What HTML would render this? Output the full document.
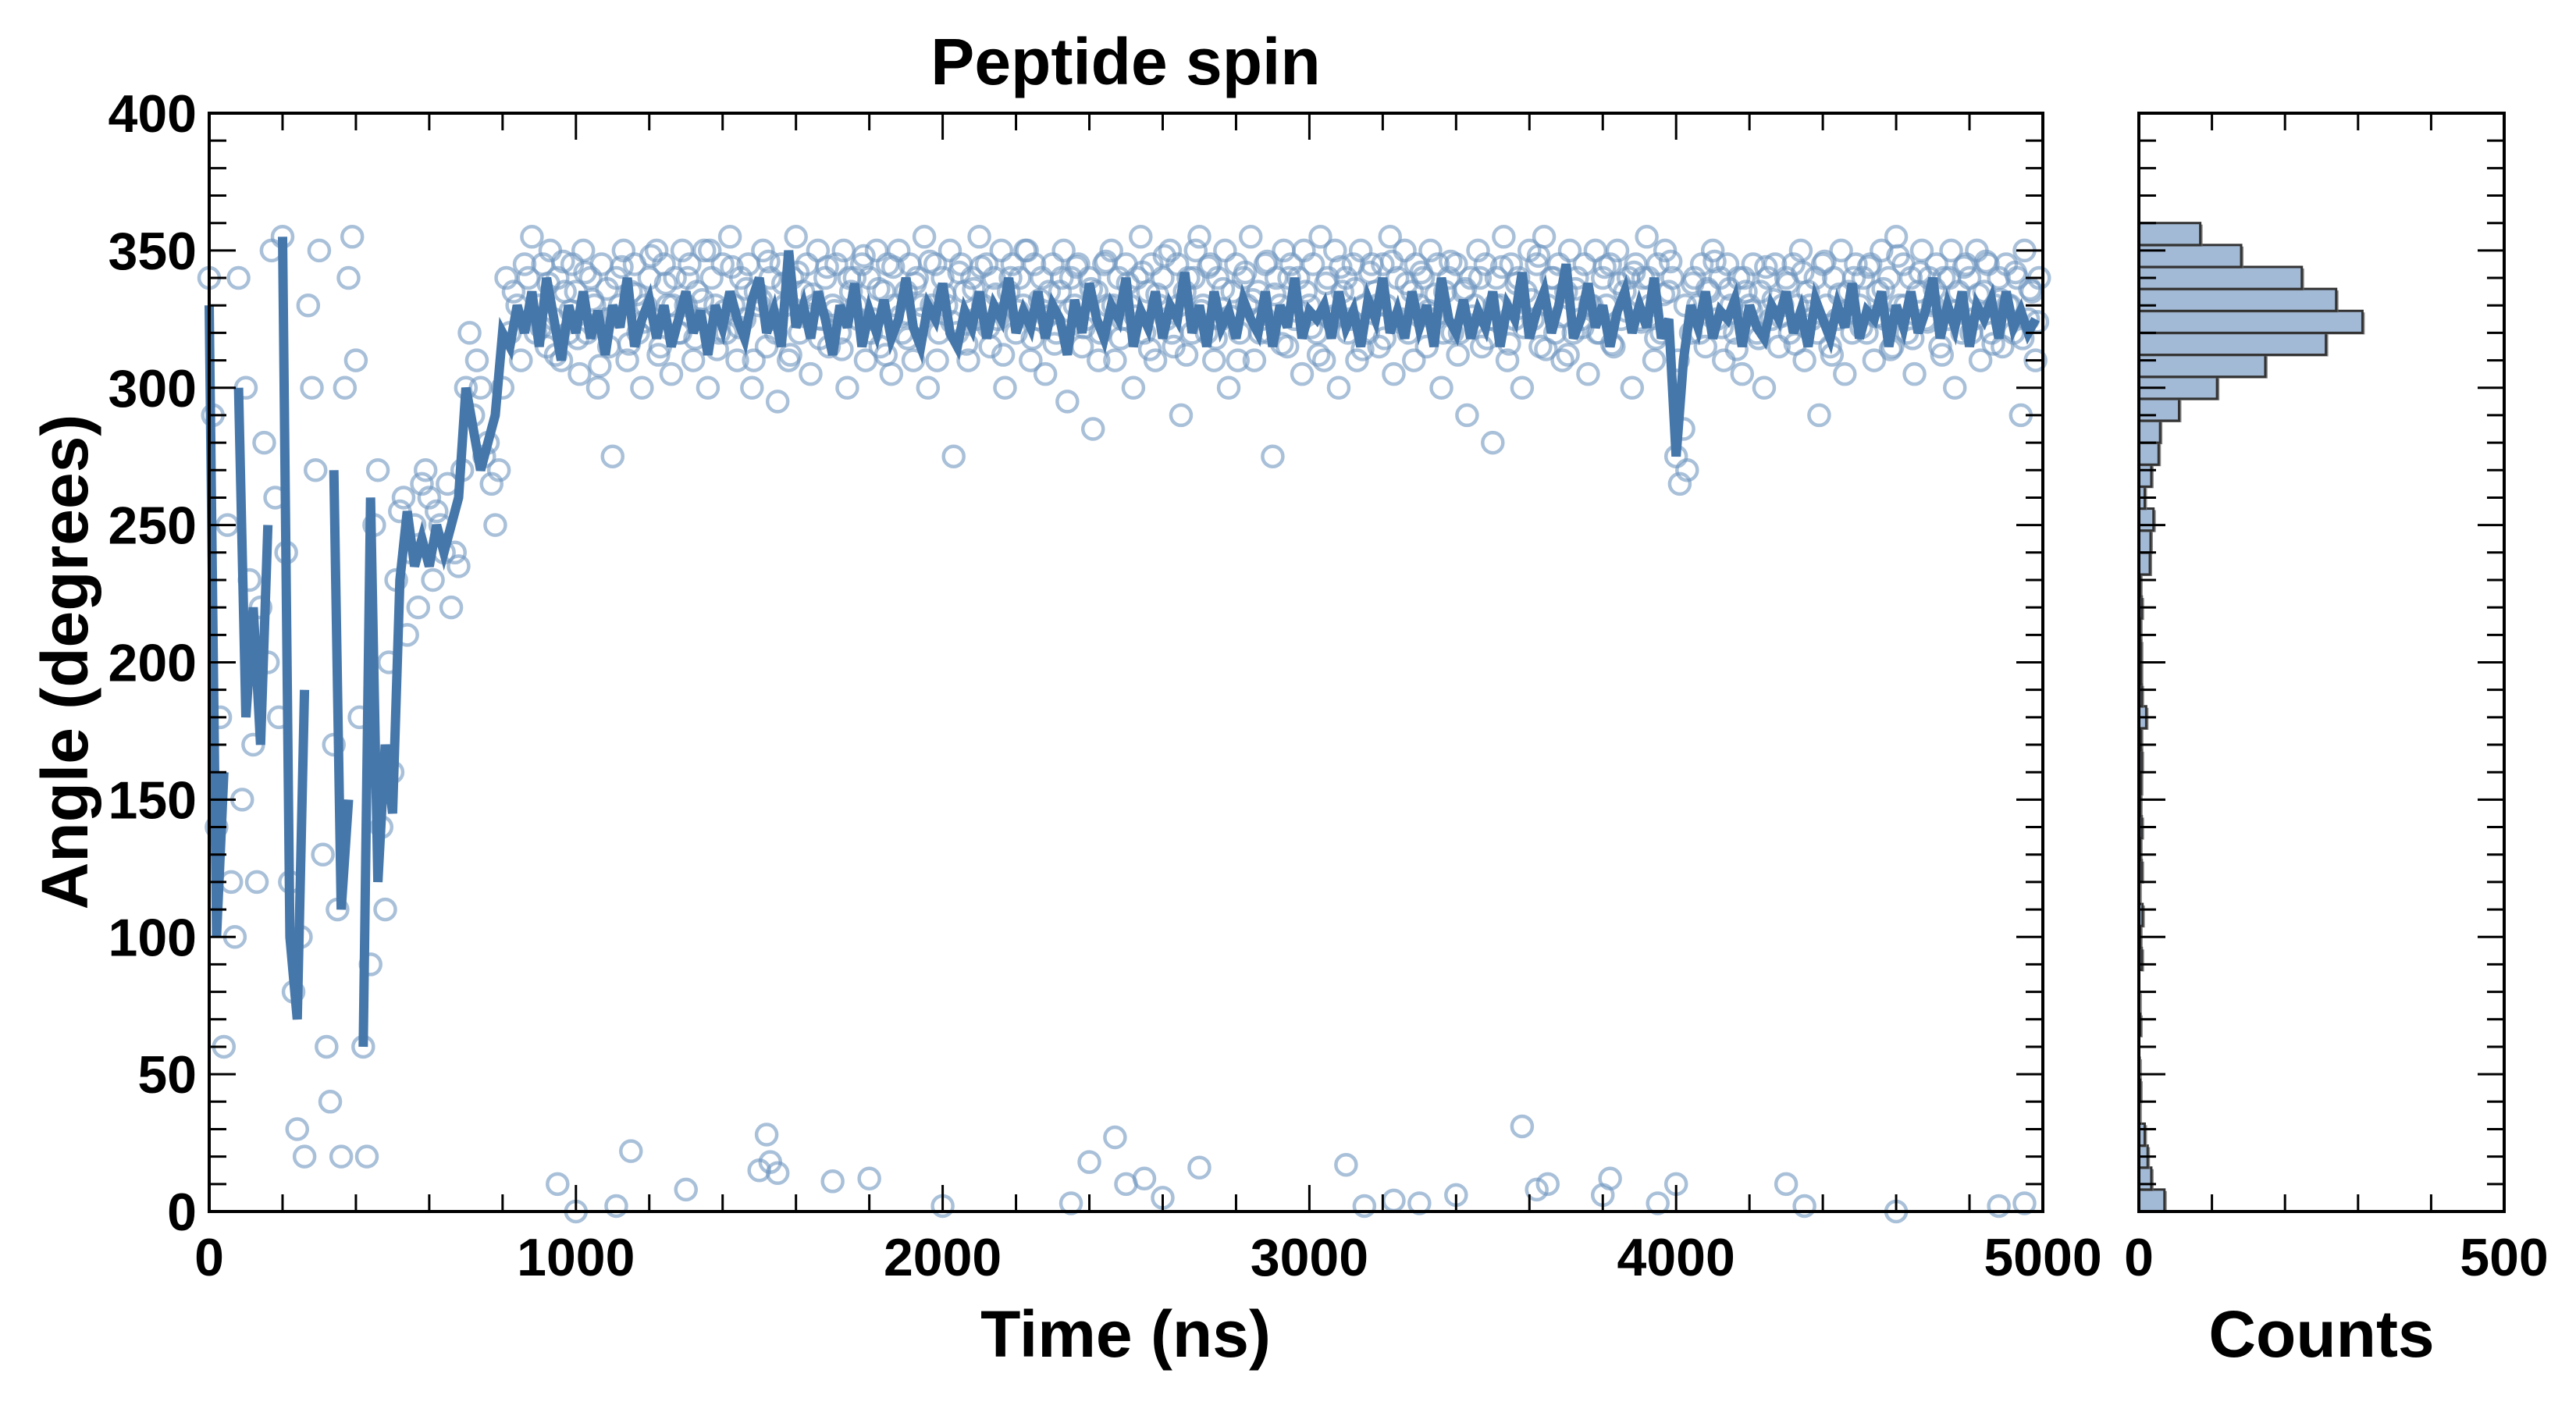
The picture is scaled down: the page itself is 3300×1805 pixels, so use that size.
<!DOCTYPE html>
<html><head><meta charset="utf-8"><style>
html,body{margin:0;padding:0;background:#fff;}
svg text{font-family:"Liberation Sans Narrow","Liberation Sans",sans-serif;font-weight:bold;fill:#000;}
</style></head><body>
<svg id="chart" width="3300" height="1800" viewBox="0 0 3300 1800" xmlns="http://www.w3.org/2000/svg">
<rect width="3300" height="1800" fill="#fff"/>
<g id="scatter"></g>
<g id="line"></g>
<g id="hist"></g>
<g id="axes"></g>
<text x="1442" y="108" font-size="84" text-anchor="middle">Peptide spin</text>
<text x="1442" y="1738" font-size="84" text-anchor="middle">Time (ns)</text>
<text x="0" y="0" font-size="84" text-anchor="middle" transform="translate(112,848) rotate(-90)">Angle (degrees)</text>
<text x="2974" y="1738" font-size="84" text-anchor="middle">Counts</text>
</svg>
<script>
const scatterStart = 0, scatterStep = 10;
const scatterValues = [
340,290,140,180,60,250,120,100,340,150,
300,230,170,120,220,280,200,350,260,180,
355,240,120,80,30,100,20,330,300,270,
350,130,60,40,170,110,20,300,340,355,
310,180,60,20,90,250,270,140,110,200,
160,230,255,260,210,240,250,220,265,270,
260,230,255,250,240,265,220,240,235,270,
300,320,290,310,300,275,280,265,250,270,
300,340,320,335,330,310,345,340,355,320,
330,345,315,350,325,340,310,335,320,345,
335,305,350,320,340,330,300,345,325,315,
275,340,330,350,310,335,345,320,300,330,
340,325,350,315,345,330,305,340,320,350,
330,345,310,335,325,350,300,340,330,320,
345,320,355,330,310,340,325,345,300,335,
330,350,315,340,325,295,345,330,310,340,
355,320,335,345,305,330,350,325,340,315,
330,345,320,350,300,335,340,325,345,310,
340,325,350,315,335,345,305,330,350,320,
335,345,310,340,325,355,300,330,345,320,
340,330,350,275,320,345,335,310,340,325,
355,330,345,315,340,325,350,300,335,345,
320,340,330,350,310,345,325,340,305,335,
345,320,335,350,295,340,330,345,315,325,
340,285,335,320,345,330,350,310,340,325,
345,330,300,340,355,320,335,345,310,330,
340,325,350,315,345,290,335,340,320,350,
355,330,320,345,310,340,325,350,300,335,
345,320,340,330,355,310,335,325,345,320,
275,340,330,350,315,345,325,340,305,335,
330,345,320,355,310,340,325,350,300,335,
340,325,345,310,350,330,320,345,335,315,
345,330,355,305,340,325,350,320,335,345,
330,340,315,350,325,345,300,335,340,320,
345,320,335,290,340,330,350,315,345,325,
280,340,330,355,310,345,325,340,300,335,
350,325,345,315,355,330,340,320,345,310,
335,350,320,340,325,345,305,330,350,320,
340,330,345,315,350,325,335,340,300,345,
325,340,355,330,310,345,320,350,335,340,
275,265,285,270,320,340,330,345,315,335,
350,325,340,310,345,330,320,340,305,335,
330,345,320,335,300,340,325,345,315,330,
340,320,345,330,350,310,335,325,340,290,
345,330,315,340,325,350,305,335,320,345,
330,340,320,345,310,335,350,325,340,315,
355,330,345,320,340,305,335,350,325,340,
330,345,315,340,325,350,300,335,320,345,
340,325,350,310,335,345,320,330,340,315,
345,330,320,340,290,350,325,335,310,340];
const scatter2Start = 905, scatter2Step = 20;
const scatter2Values = [
322,338,312,346,328,318,342,332,308,336,
326,344,316,334,324,348,312,338,330,320,
340,318,332,350,314,328,344,322,336,310,
332,346,320,338,312,342,326,334,318,344,
328,314,340,330,348,320,336,312,344,326,
318,338,330,346,310,334,324,342,316,336,
344,322,334,312,340,328,350,318,332,326,
316,340,328,344,322,336,310,346,330,318,
338,326,342,314,334,348,320,330,312,340,
328,344,318,336,326,310,342,332,320,346,
334,316,340,328,350,322,312,338,326,344,
320,336,314,342,330,318,346,324,338,310,
342,328,334,320,346,312,336,326,340,318,
330,344,316,338,322,332,348,314,340,326,
312,336,322,330,320,344,316,338,328,342,
324,340,318,334,346,310,330,338,320,336,
346,322,336,314,340,328,318,344,332,326,
338,316,342,330,320,346,312,334,328,340,
322,344,326,336,314,348,330,318,342,324,
336,312,340,328,344,320,334,346,316,332,
330,342,318,336,324];
const outlierTimes = [950,1000,1110,1150,1300,1500,1520,1530,1550,1700,1800,2000,2350,2400,2470,2500,2550,2600,2700,3100,3150,3230,3300,3400,3580,3620,3650,3800,3820,3950,4000,4300,4350,4600,4880,4950];
const outlierValues = [10,0,2,22,8,15,28,18,14,11,12,2,3,18,27,10,12,5,16,17,2,4,3,6,31,8,10,6,12,3,10,10,2,0,2,3];
const lineStep = 20;
const lineValues = [
330,100,160,null,300,180,220,170,250,null,355,100,70,190,null,40,null,270,110,150,null,60,260,120,170,145,230,255,235,245,235,250,240,250,260,300,285,270,280,290,320,315,
330,320,335,315,340,325,310,330,320,335,
318,328,312,330,322,340,315,325,332,318,
330,315,325,335,320,328,312,330,322,335,
325,318,332,340,320,328,315,350,322,330,
318,335,325,312,330,322,338,315,328,320,
332,318,325,340,322,315,330,325,338,320,
315,328,322,335,318,330,325,340,320,328,
322,335,318,330,325,312,332,320,338,325,
318,330,325,340,315,328,322,335,318,330,
325,342,320,330,315,335,322,328,318,332,
325,320,335,315,330,322,340,318,328,325,
330,318,335,322,328,315,332,325,340,320,
328,318,335,322,330,315,340,325,320,332,
318,328,322,335,315,330,325,342,318,328,
335,320,330,345,318,325,338,322,330,315,
328,335,320,330,322,340,318,325,275,310,
330,322,335,318,328,325,332,315,330,322,
318,330,325,335,320,328,315,332,325,318,
330,322,338,318,328,325,335,315,330,322,
335,320,328,340,318,330,322,335,315,330,
325,332,318,335,322,328,320,325];
const binWidth = 8;
const histCounts = [35,17,12,8,1,2,1,0,2,1,0,4,2,5,1,4,2,4,2,3,4,3,10,4,3,3,2,4,2,15,16,20,8,17,27,29,55,107,173,256,306,270,223,140,84];
const yTicks = [0,50,100,150,200,250,300,350,400];
const xTicks = [0,1000,2000,3000,4000,5000];
const histTicks = [0,500];

const NS='http://www.w3.org/2000/svg';
const L=268,R=2617,T=145,B=1552,HL=2740,HR=3208;
const X=t=>L+t/5000*(R-L);
const Y=v=>B-v/400*(B-T);
const HX=c=>HL+c/500*(HR-HL);
function mk(tag,attrs,parent){const e=document.createElementNS(NS,tag);for(const k in attrs)e.setAttribute(k,attrs[k]);parent.appendChild(e);return e;}
const sg=document.getElementById('scatter');
function dot(t,v){
  const c=mk('circle',{cx:X(t),cy:Y(v),r:13,fill:'none',stroke:'#7096c0','stroke-width':4.5,'stroke-opacity':0.6},sg);
  
  
}
scatterValues.forEach((v,i)=>dot(scatterStart+i*scatterStep,v));
scatter2Values.forEach((v,i)=>dot(scatter2Start+i*scatter2Step,v));
outlierTimes.forEach((t,i)=>dot(t,outlierValues[i]));
const lg=document.getElementById('line');
let d='',pen=false;
lineValues.forEach((v,i)=>{
  if(v===null){pen=false;return;}
  d+=(pen?'L':'M')+X(i*lineStep).toFixed(1)+' '+Y(v).toFixed(1)+' ';pen=true;
});
const p=mk('path',{d:d,fill:'none',stroke:'#4677aa','stroke-width':12,'stroke-linejoin':'miter'},lg);


const hg=document.getElementById('hist');
histCounts.forEach((c,i)=>{
  if(c<=0)return;
  const y0=Y((i+1)*binWidth),h=Y(i*binWidth)-y0;
  mk('rect',{x:HL+3,y:y0+2,width:HX(c)-HL,height:h,fill:'#666','fill-opacity':0.8},hg);
  const r=mk('rect',{x:HL,y:y0,width:HX(c)-HL,height:h,fill:'#a2bad6',stroke:'#333','stroke-width':3},hg);
  
  
});
const ag=document.getElementById('axes');
function frame(x0,x1){mk('rect',{x:x0,y:T,width:x1-x0,height:B-T,fill:'none',stroke:'#000','stroke-width':4},ag);}
frame(L,R);frame(HL,HR);
function yt(x0,x1){
  for(let v=0;v<=400;v+=10){const maj=v%50===0,len=maj?34:22,y=Y(v);
    mk('line',{x1:x0,y1:y,x2:x0+len,y2:y,stroke:'#000','stroke-width':3},ag);
    mk('line',{x1:x1,y1:y,x2:x1-len,y2:y,stroke:'#000','stroke-width':3},ag);}
}
yt(L,R);yt(HL,HR);
for(let t=0;t<=5000;t+=200){const maj=t%1000===0,len=maj?34:22,x=X(t);
  mk('line',{x1:x,y1:B,x2:x,y2:B-len,stroke:'#000','stroke-width':3},ag);
  mk('line',{x1:x,y1:T,x2:x,y2:T+len,stroke:'#000','stroke-width':3},ag);}
for(let c=0;c<=500;c+=100){const x=HX(c);
  mk('line',{x1:x,y1:B,x2:x,y2:B-22,stroke:'#000','stroke-width':3},ag);
  mk('line',{x1:x,y1:T,x2:x,y2:T+22,stroke:'#000','stroke-width':3},ag);}
yTicks.forEach(v=>{const t=mk('text',{x:252,y:Y(v)+24,'font-size':68,'text-anchor':'end'},ag);t.textContent=v;
  
  });
xTicks.forEach(v=>{const t=mk('text',{x:X(v),y:1634,'font-size':68,'text-anchor':'middle'},ag);t.textContent=v;
  
  });
histTicks.forEach(v=>{const t=mk('text',{x:HX(v),y:1634,'font-size':68,'text-anchor':'middle'},ag);t.textContent=v;
  
  });
</script>
</body></html>
